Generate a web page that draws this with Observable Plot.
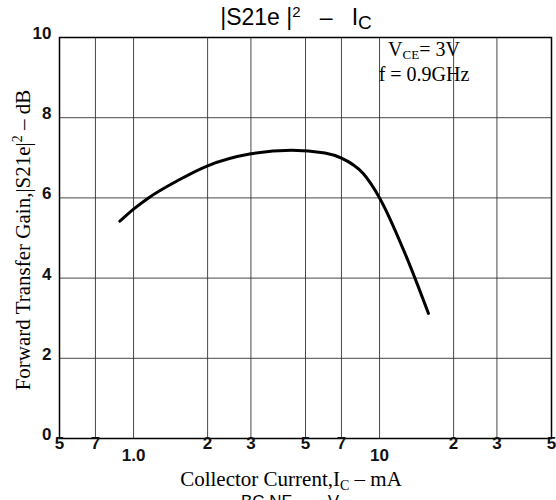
<!DOCTYPE html>
<html>
<head>
<meta charset="utf-8">
<script src="https://cdn.jsdelivr.net/npm/d3@7"></script>
<script src="https://cdn.jsdelivr.net/npm/@observablehq/plot@0.6"></script>
<style>
  html, body { margin: 0; padding: 0; background: #fff; }
  #chart { width: 556px; height: 500px; overflow: hidden; }
</style>
</head>
<body>
<div id="chart"></div>
<script>
// Curve (Ic in mA, gain in dB)
const current = [0.88, 1.0, 1.15, 1.5, 2, 3, 4.4, 6, 7, 8.6, 10, 12.8, 15.8];
const gain    = [5.42, 5.72, 6.0, 6.42, 6.8, 7.1, 7.19, 7.12, 6.99, 6.6, 6.0, 4.56, 3.12];

// Axis ticks / grid
const xTickValues = [0.5, 0.7, 1, 2, 3, 5, 7, 10, 20, 30, 50];
const xTickLabels = ["5", "7", "1.0", "2", "3", "5", "7", "10", "2", "3", "5"];
const xTickLowered = [false, false, true, false, false, false, false, true, false, false, false];
const yTickValues = [0, 2, 4, 6, 8, 10];

const curveData = current.map((c, i) => ({x: c, y: gain[i]}));
const xTicks = xTickValues.map((v, i) => ({v, label: xTickLabels[i], low: xTickLowered[i]}));

const sans = "'Liberation Sans', Arial, sans-serif";
const serif = "'Liberation Serif', 'Times New Roman', serif";

const chart = Plot.plot({
  width: 556,
  height: 500,
  marginLeft: 59,
  marginRight: 5,
  marginTop: 37,
  marginBottom: 62,
  style: {fontFamily: sans, background: "#fff"},
  x: {type: "log", domain: [0.5, 50], axis: null},
  y: {domain: [0, 10], axis: null},
  marks: [
    Plot.ruleX(xTickValues, {stroke: "#333", strokeWidth: 0.9}),
    Plot.ruleY(yTickValues, {stroke: "#333", strokeWidth: 0.9}),
    Plot.frame({stroke: "#000", strokeWidth: 1.5}),
    Plot.line(curveData, {x: "x", y: "y", curve: "monotone-x", stroke: "#000", strokeWidth: 3}),
    Plot.text(xTicks.filter(d => !d.low), {x: "v", text: "label", frameAnchor: "bottom", dy: 10, fontSize: 17, fontWeight: "bold", fill: "#111"}),
    Plot.text(xTicks.filter(d => d.low), {x: "v", text: "label", frameAnchor: "bottom", dy: 22, fontSize: 17, fontWeight: "bold", fill: "#111"}),
    Plot.text(yTickValues, {y: d => d, text: d => String(d), frameAnchor: "left", textAnchor: "end", dx: -8, dy: -4, fontSize: 17, fontWeight: "bold", fill: "#111"})
  ]
});

document.getElementById("chart").appendChild(chart);

const svg = d3.select(chart);

// Title
const title = svg.append("text")
  .attr("x", 296).attr("y", 25)
  .attr("text-anchor", "middle")
  .style("font-family", sans).style("font-size", "23px").attr("fill", "#000");
title.append("tspan").text("|S21e |");
title.append("tspan").attr("dy", -8).style("font-size", "15px").text("2");
title.append("tspan").attr("dy", 8).text("   –   I");
title.append("tspan").attr("dy", 4).style("font-size", "19px").text("C");

// x axis title
const xt = svg.append("text")
  .attr("x", 291).attr("y", 486)
  .attr("text-anchor", "middle")
  .style("font-family", serif).style("font-size", "21px").attr("fill", "#000");
xt.append("tspan").text("Collector Current,I");
xt.append("tspan").attr("dy", 4).style("font-size", "14px").text("C");
xt.append("tspan").attr("dy", -4).text(" – mA");

// cut-off line at the bottom (partly outside the picture, as in the reference)
svg.append("text")
  .attr("x", 290).attr("y", 507)
  .attr("text-anchor", "middle")
  .style("font-family", sans).style("font-size", "17px").attr("fill", "#000")
  .text("BC NF  —  V");

// y axis title
const yt = svg.append("text")
  .attr("transform", "translate(30,240) rotate(-90)")
  .attr("text-anchor", "middle")
  .style("font-family", serif).style("font-size", "21px").attr("fill", "#000");
yt.append("tspan").text("Forward Transfer Gain,|S21e|");
yt.append("tspan").attr("dy", -8).style("font-size", "14px").text("2");
yt.append("tspan").attr("dy", 8).text(" – dB");

// Conditions annotation
const a1 = svg.append("text")
  .attr("x", 424).attr("y", 56)
  .style("font-family", serif).style("font-size", "20px").attr("fill", "#000");
a1.append("tspan").text("V");
a1.append("tspan").attr("dy", 3).style("font-size", "13px").text("CE");
a1.append("tspan").attr("dy", -3).text("= 3V");

svg.append("text")
  .attr("x", 424).attr("y", 81)
  .style("font-family", serif).style("font-size", "20px").attr("fill", "#000")
  .text("f = 0.9GHz");
</script>
</body>
</html>
